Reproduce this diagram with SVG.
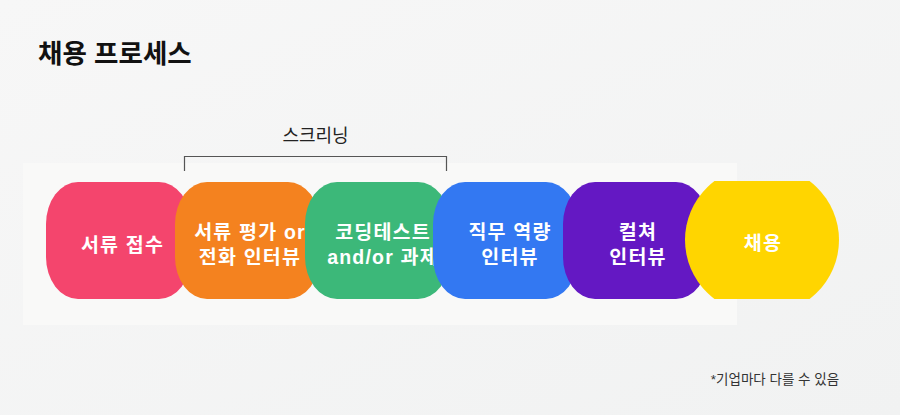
<svg xmlns="http://www.w3.org/2000/svg" width="900" height="415" viewBox="0 0 900 415">
<defs>
<linearGradient id="bg" x1="0" y1="0" x2="1" y2="1">
<stop offset="0" stop-color="#f7f7f7"/>
<stop offset="1" stop-color="#f1f2f2"/>
</linearGradient>
<clipPath id="yc"><rect x="680" y="181" width="170" height="118"/></clipPath>
</defs>
<style>
.t{font-family:"Liberation Sans","Noto Sans CJK KR",sans-serif;}
.lbl{font-family:"Liberation Sans","Noto Sans CJK KR",sans-serif;font-size:19.5px;font-weight:700;fill:#ffffff;text-anchor:middle;letter-spacing:1.2px;}
</style>
<rect width="900" height="415" fill="url(#bg)"/>
<rect x="23" y="163" width="714" height="162" fill="#f9f9f8"/>
<text class="t" x="38" y="63" font-size="26.5" font-weight="700" fill="#111111">채용 프로세스</text>
<text class="t" x="315.5" y="141.5" font-size="18" font-weight="400" fill="#222222" text-anchor="middle">스크리닝</text>
<g id="connectors">
<path d="M184.5 171 V156.5 H446.5 V171" fill="none" stroke="#555555" stroke-width="1.2"/>
</g>
<g id="n1">
<rect x="46" y="182" width="145" height="117" rx="32" ry="42" fill="#f4456d"/>
<text class="lbl" x="122.5" y="252">서류 접수</text>
</g>
<g id="n2">
<rect x="175" y="182" width="145" height="117" rx="32" ry="42" fill="#f4821f"/>
<text class="lbl" x="250" y="239">서류 평가 or</text>
<text class="lbl" x="250" y="264">전화 인터뷰</text>
</g>
<g id="n3">
<rect x="305" y="182" width="145" height="117" rx="32" ry="42" fill="#3cb879"/>
<text class="lbl" x="383" y="239">코딩테스트</text>
<text class="lbl" x="383" y="264">and/or 과제</text>
</g>
<g id="n4">
<rect x="433" y="182" width="145" height="117" rx="32" ry="42" fill="#3378f2"/>
<text class="lbl" x="510" y="239">직무 역량</text>
<text class="lbl" x="510" y="264">인터뷰</text>
</g>
<g id="n5">
<rect x="563" y="182" width="145" height="117" rx="32" ry="42" fill="#6418c3"/>
<text class="lbl" x="638" y="239">컬쳐</text>
<text class="lbl" x="638" y="264">인터뷰</text>
</g>
<g id="n6">
<ellipse cx="762" cy="240" rx="77" ry="75" fill="#ffd500" clip-path="url(#yc)"/>
<text class="lbl" x="763" y="250">채용</text>
</g>
<text class="t" x="775" y="384" font-size="13.5" fill="#333333" text-anchor="middle">*기업마다 다를 수 있음</text>
</svg>
